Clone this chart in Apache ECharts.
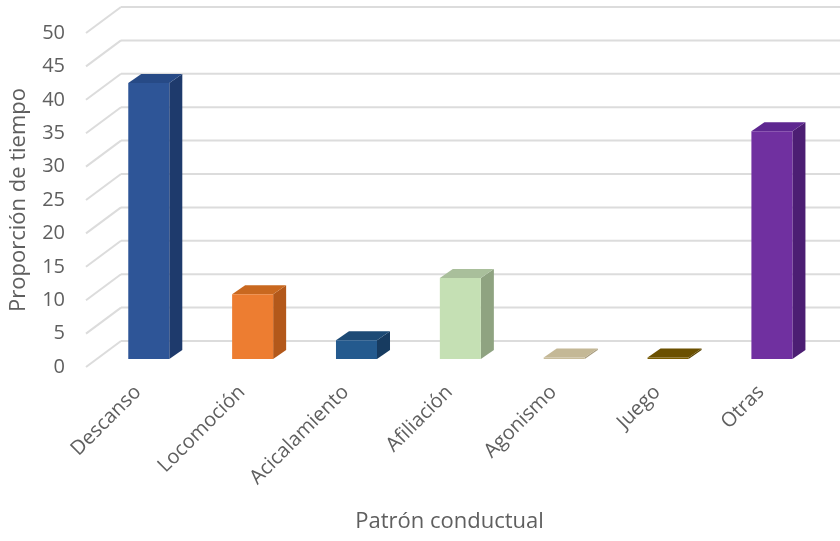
<!DOCTYPE html>
<html>
<head>
<meta charset="utf-8">
<script src="https://cdn.jsdelivr.net/npm/echarts@6/dist/echarts.min.js"></script>
<style>
html,body{margin:0;padding:0;background:#fff;}
#chart{width:840px;height:541px;}
</style>
</head>
<body>
<div id="chart"></div>
<script>
// ---- data ----
var categories = ['Descanso', 'Locomoción', 'Acicalamiento', 'Afiliación', 'Agonismo', 'Juego', 'Otras'];
var values = [41.3, 9.7, 2.8, 12.1, 0.2, 0.2, 34.1];
var tickValues = [0, 5, 10, 15, 20, 25, 30, 35, 40, 45, 50];
var frontColors = ['#2E5597', '#ED7D31', '#245A8E', '#C5E0B4', '#C9BD9C', '#7A5C00', '#7030A0'];
var sideColors  = ['#1E3A6C', '#B3581A', '#173B60', '#8FA381', '#A89C7E', '#5A4400', '#4C1E73'];
var topColors   = ['#274A86', '#C9681F', '#1D4A75', '#A9BF9B', '#C4B896', '#6B5000', '#5E2790'];
var xTitle = 'Patrón conductual';
var yTitle = 'Proporción de tiempo';

// projection (style) constants
var WALL_DX = 35, WALL_DY = -26;
var BAR_DX = 13, BAR_DY = -9;
var BAR_OFF = 0.31;
var BAR_W = 0.395;

var chart = echarts.init(document.getElementById('chart'));

function wallRender(params, api) {
  var v = api.value(0);
  var band = api.size([1, 0])[0];
  var p0 = api.coord([0, v]);
  var pN = api.coord([categories.length - 1, v]);
  var left = p0[0] - band / 2;
  var right = pN[0] + band / 2;
  var y = p0[1];
  var st = {stroke: '#dcdcdc', lineWidth: 2};
  return {
    type: 'group',
    children: [
      {type: 'line', shape: {x1: left, y1: y, x2: left + WALL_DX, y2: y + WALL_DY}, style: st},
      {type: 'line', shape: {x1: left + WALL_DX, y1: y + WALL_DY, x2: right + WALL_DX + 40, y2: y + WALL_DY}, style: st}
    ]
  };
}

function barRender(params, api) {
  var i = api.value(0);
  var v = api.value(1);
  var base = api.coord([i, 0]);
  var top = api.coord([i, v]);
  var band = api.size([1, 0])[0];
  var w = band * BAR_W;
  var ox = WALL_DX * BAR_OFF, oy = WALL_DY * BAR_OFF;
  var xl = base[0] + ox - w / 2, xr = base[0] + ox + w / 2;
  var yb = base[1] + oy, yt = top[1] + oy;
  return {
    type: 'group',
    children: [
      {type: 'polygon', shape: {points: [[xr, yt], [xr + BAR_DX, yt + BAR_DY], [xr + BAR_DX, yb + BAR_DY], [xr, yb]]},
        style: {fill: sideColors[i]}},
      {type: 'polygon', shape: {points: [[xl, yt], [xl + BAR_DX, yt + BAR_DY], [xr + BAR_DX, yt + BAR_DY], [xr, yt]]},
        style: {fill: topColors[i]}},
      {type: 'rect', shape: {x: xl, y: yt, width: w, height: yb - yt},
        style: {fill: frontColors[i]}}
    ]
  };
}

var option = {
  backgroundColor: '#ffffff',
  animation: false,
  textStyle: {fontFamily: 'Open Sans'},
  grid: {left: 86, right: 27, top: 33, bottom: 174, containLabel: false, outerBoundsMode: 'none'},
  xAxis: {
    type: 'category',
    data: categories,
    axisLine: {show: false},
    axisTick: {show: false},
    splitLine: {show: false},
    axisLabel: {rotate: 45, margin: 22, fontSize: 20, color: '#5f5f5f', fontFamily: 'Open Sans', interval: 0},
    name: xTitle,
    nameLocation: 'middle',
    nameGap: 144,
    nameMoveOverlap: false,
    nameTextStyle: {fontSize: 22, color: '#5f5f5f', fontFamily: 'Open Sans'}
  },
  yAxis: {
    type: 'value',
    min: 0, max: 50, interval: 5,
    axisLine: {show: false},
    axisTick: {show: false},
    splitLine: {show: false},
    axisLabel: {margin: 21, fontSize: 20, color: '#5f5f5f', fontFamily: 'Open Sans'},
    name: yTitle,
    nameLocation: 'middle',
    nameGap: 56,
    nameRotate: 90,
    nameMoveOverlap: false,
    nameTextStyle: {fontSize: 22, color: '#5f5f5f', fontFamily: 'Open Sans'}
  },
  series: [
    {type: 'custom', renderItem: wallRender, data: tickValues.map(function (t) { return [t]; }), encode: {y: 0}, silent: true, z: 1},
    {type: 'custom', renderItem: barRender, data: values.map(function (v, i) { return [i, v]; }), encode: {x: 0, y: 1}, z: 5}
  ]
};
chart.setOption(option);
</script>
</body>
</html>
